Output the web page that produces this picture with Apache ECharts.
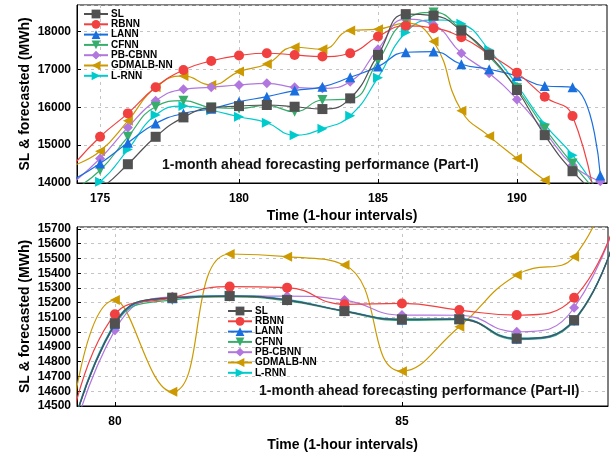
<!DOCTYPE html>
<html>
<head>
    <meta charset="UTF-8">
    <title>1-month ahead forecasting</title>
    <script src="https://cdn.jsdelivr.net/npm/echarts/dist/echarts.min.js"></script>
    <style>
        html, body { margin: 0; padding: 0; background: #fff; }
        #chart { width: 613px; height: 457px; }
    </style>
</head>
<body>
<div id="chart"></div>
<script type="text/javascript">
    // Part-I: hours 174..193
    var hoursA = [174, 175, 176, 177, 178, 179, 180, 181, 182, 183, 184, 185, 186, 187, 188, 189, 190, 191, 192, 193];
    var slA     = [13500, 13850, 14496, 15220, 15732, 15990, 16030, 16060, 16014, 15952, 16235, 17382, 18459, 18420, 18026, 17382, 16455, 15264, 14311, 13620];
    var rbnnA   = [14440, 15220, 15838, 16526, 16985, 17223, 17365, 17426, 17382, 17338, 17426, 17868, 18150, 18088, 17850, 17400, 16914, 16279, 15767, 12600];
    var lannA   = [14072, 14514, 15061, 15573, 15838, 15960, 16147, 16279, 16440, 16540, 16791, 17073, 17453, 17470, 17135, 17003, 16826, 16561, 16526, 14200];
    var cfnnA   = [13800, 14337, 15220, 16014, 16173, 15996, 15970, 16050, 15882, 16191, 16217, 17223, 18300, 18503, 18044, 17338, 16500, 15440, 14514, 13650];
    var pbcbnnA = [13990, 14646, 15467, 16173, 16473, 16526, 16588, 16632, 16526, 16500, 16676, 17532, 18327, 18176, 17426, 16897, 16208, 15352, 14470, 14046];
    var gdmalbA = [14450, 14840, 15643, 16526, 16826, 16588, 16941, 17144, 17585, 17532, 18026, 18062, 18221, 17735, 15908, 15237, 14646, 14072, 13600, 13200];
    var lrnnA   = [13650, 14035, 14884, 15794, 16032, 15920, 15749, 15590, 15264, 15432, 15776, 16782, 17974, 18309, 18203, 17515, 16588, 15546, 14734, 13685];

    // Part-II: hours 79..89
    var hoursB = [79, 80, 81, 82, 83, 84, 85, 86, 87, 88, 89];
    var slB     = [13900, 15060, 15234, 15245, 15218, 15143, 15087, 15087, 14958, 15082, 16100];
    var rbnnB   = [13850, 15121, 15234, 15309, 15302, 15189, 15195, 15150, 15116, 15234, 16150];
    var lannB   = [13900, 15055, 15230, 15245, 15218, 15143, 15085, 15090, 14955, 15080, 16100];
    var cfnnB   = [13900, 15050, 15218, 15240, 15212, 15140, 15080, 15085, 14950, 15075, 16100];
    var pbcbnnB = [13850, 15014, 15240, 15245, 15245, 15218, 15116, 15115, 15003, 15166, 16120];
    var gdmalbB = [13600, 15218, 14596, 15530, 15512, 15456, 14736, 15037, 15388, 15512, 16600];
    var lrnnB   = [13900, 15065, 15234, 15248, 15222, 15145, 15090, 15092, 14960, 15085, 16100];

    var names   = ['SL', 'RBNN', 'LANN', 'CFNN', 'PB-CBNN', 'GDMALB-NN', 'L-RNN'];
    var colors  = ['#515151', '#F14040', '#1A6FDF', '#37AD6B', '#B177DE', '#CC9900', '#00CBCC'];
    var symbols = ['rect', 'circle', 'triangle', 'triangle', 'diamond', 'triangle', 'triangle'];
    var rotates = [0, 0, 0, 180, 0, 90, -90];
    var seriesA = [slA, rbnnA, lannA, cfnnA, pbcbnnA, gdmalbA, lrnnA];
    var seriesB = [slB, rbnnB, lannB, cfnnB, pbcbnnB, gdmalbB, lrnnB];

    var FONT = 'Liberation Sans, Arial, sans-serif';

    function pairs(xs, ys) {
        return xs.map(function (x, i) { return [x, ys[i]]; });
    }

    var series = [];
    for (var k = 0; k < names.length; k++) {
        [[hoursA, seriesA[k], 0], [hoursB, seriesB[k], 1]].forEach(function (p) {
            series.push({
                name: names[k],
                type: 'line',
                xAxisIndex: p[2],
                yAxisIndex: p[2],
                data: pairs(p[0], p[1]),
                smooth: 0.5,
                symbol: symbols[k],
                symbolRotate: rotates[k],
                symbolSize: 10,
                showAllSymbol: true,
                clip: true,
                itemStyle: { color: colors[k] },
                lineStyle: { color: colors[k], width: 1.2 },
                z: 10 - k
            });
        });
    }

    var gridLine = { show: true, lineStyle: { color: '#c4c4c4', type: [3, 4], width: 1 } };
    var labelStyle = { color: '#000', fontWeight: 'bold', fontSize: 12, fontFamily: FONT };
    var nameStyle = { color: '#000', fontWeight: 'bold', fontSize: 14, fontFamily: FONT };
    var plain = function (v) { return String(v); };

    var legendBase = {
        orient: 'vertical',
        data: names,
        itemWidth: 24,
        itemHeight: 11,
        itemGap: 0.3,
        padding: 0,
        textStyle: { color: '#000', fontWeight: 'bold', fontSize: 10, fontFamily: FONT, padding: [0, 0, 0, -2] }
    };

    var option = {
        animation: false,
        backgroundColor: '#fff',
        grid: [
            { left: 77, top: 5, right: 6, height: 178, show: true, borderColor: '#000', borderWidth: 1 },
            { left: 77, top: 227, right: 5, height: 179, show: true, borderColor: '#000', borderWidth: 1 }
        ],
        legend: [
            Object.assign({ left: 83, top: 9 }, legendBase),
            Object.assign({ left: 227, top: 306 }, legendBase)
        ],
        xAxis: [
            {
                type: 'value', gridIndex: 0, min: 174.17, max: 193.24,
                name: 'Time (1-hour intervals)', nameLocation: 'middle', nameGap: 26, nameTextStyle: nameStyle,
                nameMoveOverlap: false,
                axisLine: { lineStyle: { color: '#000' } },
                axisTick: { inside: true, length: 4, customValues: [175, 180, 185, 190], lineStyle: { color: '#000' } },
                axisLabel: Object.assign({ margin: 10, customValues: [175, 180, 185, 190], formatter: plain }, labelStyle),
                splitLine: gridLine
            },
            {
                type: 'value', gridIndex: 1, min: 79.34, max: 88.59,
                name: 'Time (1-hour intervals)', nameLocation: 'middle', nameGap: 32, nameTextStyle: nameStyle,
                nameMoveOverlap: false,
                axisLine: { lineStyle: { color: '#000' } },
                axisTick: { inside: true, length: 4, customValues: [80, 85], lineStyle: { color: '#000' } },
                axisLabel: Object.assign({ margin: 10, customValues: [80, 85], formatter: plain }, labelStyle),
                splitLine: gridLine
            }
        ],
        yAxis: [
            {
                type: 'value', gridIndex: 0, min: 14000, max: 18700, interval: 1000,
                name: 'SL & forecasted (MWh)', nameLocation: 'middle', nameGap: 45, nameTextStyle: nameStyle,
                nameMoveOverlap: false,
                axisLine: { show: true, lineStyle: { color: '#000' } },
                axisTick: { show: true, inside: true, length: 4, lineStyle: { color: '#000' } },
                axisLabel: Object.assign({ margin: 6, showMaxLabel: false, formatter: plain }, labelStyle),
                splitLine: gridLine
            },
            {
                type: 'value', gridIndex: 1, min: 14500, max: 15713, interval: 100,
                name: 'SL & forecasted (MWh)', nameLocation: 'middle', nameGap: 45, nameTextStyle: nameStyle,
                nameMoveOverlap: false,
                axisLine: { show: true, lineStyle: { color: '#000' } },
                axisTick: { show: true, inside: true, length: 4, lineStyle: { color: '#000' } },
                axisLabel: Object.assign({ margin: 6, showMaxLabel: false, formatter: plain }, labelStyle),
                splitLine: gridLine
            }
        ],
        graphic: [
            {
                type: 'text', left: 162, top: 158, z: 100,
                style: { text: '1-month ahead forecasting performance (Part-I)', font: 'bold 14px ' + FONT, fill: '#111' }
            },
            {
                type: 'text', left: 259, top: 384, z: 100,
                style: { text: '1-month ahead forecasting performance (Part-II)', font: 'bold 14px ' + FONT, fill: '#111' }
            }
        ],
        series: series
    };

    var myChart = echarts.init(document.getElementById('chart'));
    myChart.setOption(option);
</script>
</body>
</html>
